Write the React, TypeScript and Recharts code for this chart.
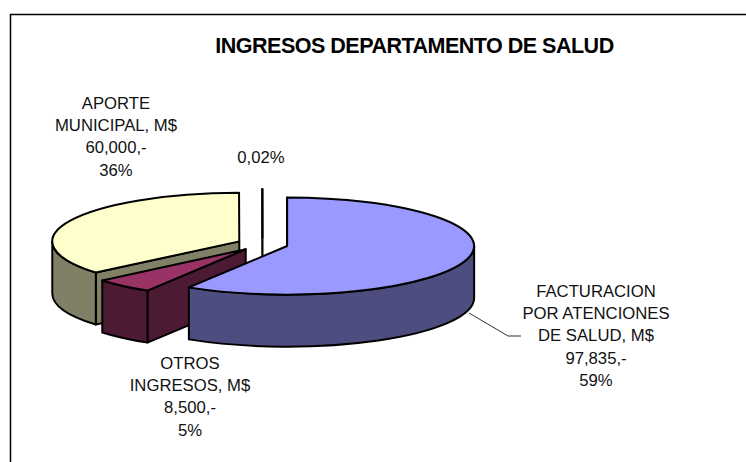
import { PieChart, Pie } from "recharts";

// values in M$, in painting order (back to front), going counter-clockwise from 12 o'clock
const names = ["RESTO", "APORTE", "OTROS", "FACTURACION"];
const amounts = [33, 60000, 8500, 97835];

const topColors = ["#ffffff", "#ffffcc", "#993366", "#9999ff"];
const sideColors = ["#808080", "#808066", "#4d1a33", "#4d4d80"];

const labelLines = [
    ["0,02%"],
    ["APORTE", "MUNICIPAL, M$", "60,000,-", "36%"],
    ["OTROS", "INGRESOS, M$", "8,500,-", "5%"],
    ["FACTURACION", "POR ATENCIONES", "DE SALUD, M$", "97,835,-", "59%"],
];
const labelAnchors = [
    { x: 261, y: 163 },
    { x: 116, y: 109 },
    { x: 190, y: 369 },
    { x: 596, y: 297 },
];

const data = names.map((name, i) => ({ name, value: amounts[i] }));

const WIDTH = 746;
const HEIGHT = 462;
const CX = 262.5;
const CY = 244.2;
const RX = 187;
const SQUASH = 0.26; // ry / rx
const DEPTH = 52;
const EXPLODE = 0.137;
const LINE_HEIGHT = 22.2;
const FONT = "'Liberation Sans', Arial, sans-serif";

const rad = (deg: number) => (deg * Math.PI) / 180;

function Slice3D(props: any) {
    const { cx, cy, outerRadius, startAngle, endAngle, payload, name } = props;
    const idx = names.indexOf(payload?.name ?? name);
    const rx = outerRadius;
    const ry = outerRadius * SQUASH;

    // clockwise degrees from 12 o'clock
    let s = 90 - Math.max(startAngle, endAngle);
    let e = 90 - Math.min(startAngle, endAngle);
    if (s < 0) {
        s += 360;
        e += 360;
    }
    const mid = (s + e) / 2;
    const ax = cx + rx * EXPLODE * Math.sin(rad(mid));
    const ay = cy - ry * EXPLODE * Math.cos(rad(mid));
    const pt = (t: number, dy = 0) => ({
        x: ax + rx * Math.sin(rad(t)),
        y: ay - ry * Math.cos(rad(t)) + dy,
    });

    const walls: string[] = [];

    // cut faces turned towards the viewer
    const cut = (t: number) => {
        const p = pt(t);
        return `M${ax},${ay} L${p.x},${p.y} L${p.x},${p.y + DEPTH} L${ax},${ay + DEPTH} Z`;
    };
    if (Math.sin(rad(s)) < 0) walls.push(cut(s));
    if (Math.sin(rad(e)) > 0) walls.push(cut(e));

    // outer wall, only the front half of the ellipse shows
    const a = Math.max(s, 90);
    const b = Math.min(e, 270);
    if (b > a) {
        const p1 = pt(a);
        const p2 = pt(b);
        walls.push(
            `M${p1.x},${p1.y} A${rx},${ry} 0 0 1 ${p2.x},${p2.y} L${p2.x},${p2.y + DEPTH} ` +
            `A${rx},${ry} 0 0 0 ${p1.x},${p1.y + DEPTH} Z`
        );
    }

    const p1 = pt(s);
    const p2 = pt(e);
    const large = e - s > 180 ? 1 : 0;
    const top = `M${ax},${ay} L${p1.x},${p1.y} A${rx},${ry} 0 ${large} 1 ${p2.x},${p2.y} Z`;

    return (
        <g stroke="#000" strokeWidth={2} strokeLinejoin="round">
            {walls.map((d, i) => (
                <path key={i} d={d} fill={sideColors[idx]} />
            ))}
            <path d={top} fill={topColors[idx]} />
        </g>
    );
}

function SliceLabel(props: any) {
    const { index } = props;
    const anchor = labelAnchors[index];
    return (
        <g>
            {index === 3 && (
                <polyline
                    points="469,313 508,336 521,336"
                    fill="none"
                    stroke="#333"
                    strokeWidth={1}
                />
            )}
            <text
                x={anchor.x}
                y={anchor.y}
                textAnchor="middle"
                fontFamily={FONT}
                fontSize={16.7}
                fill="#111"
            >
                {labelLines[index].map((line, i) => (
                    <tspan key={i} x={anchor.x} y={anchor.y + i * LINE_HEIGHT}>
                        {line}
                    </tspan>
                ))}
            </text>
        </g>
    );
}

export default function App() {
    return (
        <div style={{ position: "fixed", left: 0, top: 0, width: WIDTH, height: HEIGHT, background: "#fff" }}>
            <PieChart
                width={WIDTH}
                height={HEIGHT}
                margin={{ top: 0, right: 0, bottom: 0, left: 0 }}
            >
                <polyline
                    points={`10.5,${HEIGHT} 10.5,14.5 ${WIDTH},14.5`}
                    fill="none"
                    stroke="#000"
                    strokeWidth={1.5}
                />
                <text
                    x={414.5}
                    y={53}
                    textAnchor="middle"
                    fontFamily={FONT}
                    fontSize={21.5}
                    fontWeight="bold"
                    letterSpacing={-0.5}
                    fill="#000"
                >
                    INGRESOS DEPARTAMENTO DE SALUD
                </text>
                <Pie
                    data={data}
                    dataKey="value"
                    nameKey="name"
                    cx={CX}
                    cy={CY}
                    outerRadius={RX}
                    startAngle={90}
                    endAngle={450}
                    shape={Slice3D}
                    label={SliceLabel}
                    labelLine={false}
                    isAnimationActive={false}
                />
            </PieChart>
        </div>
    );
}
